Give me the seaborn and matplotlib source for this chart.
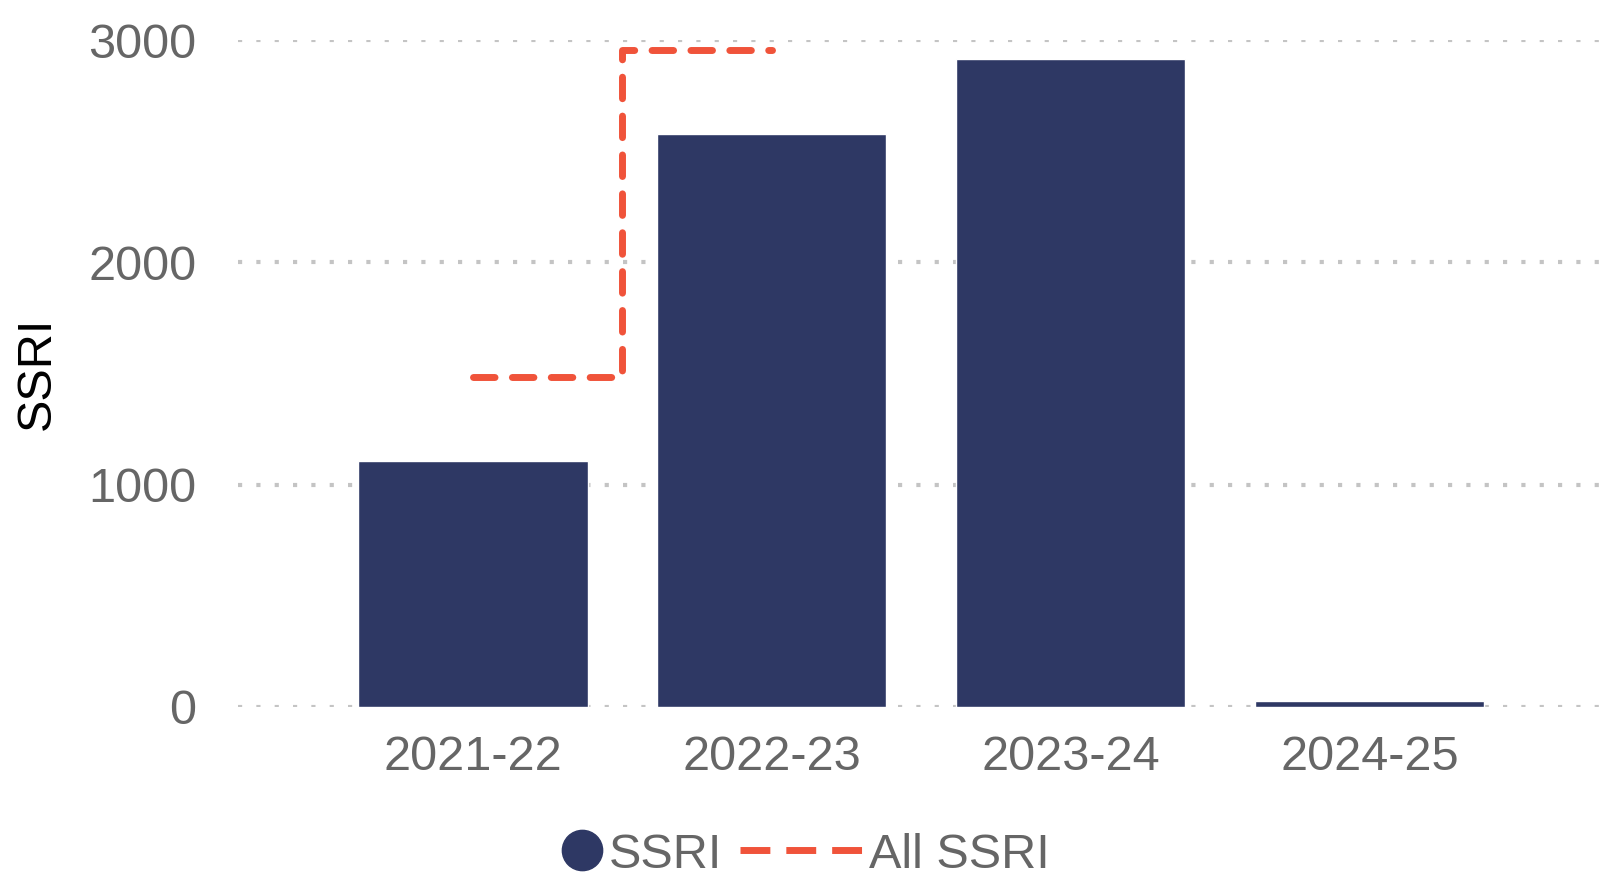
import matplotlib
matplotlib.use("Agg")
import matplotlib.pyplot as plt
from matplotlib.lines import Line2D
import seaborn as sns
import pandas as pd

# Chart data
years = ["2021-22", "2022-23", "2023-24", "2024-25"]
ssri_values = [1105, 2577, 2915, 26]
all_ssri_years = ["2021-22", "2022-23"]
all_ssri_values = [1484, 2955]
y_ticks = [0, 1000, 2000, 3000]

BAR_COLOR = "#2e3864"
LINE_COLOR = "#f0533a"
TEXT_GRAY = "#666666"
DASH = (0, (3.1, 2.5))

sns.set_theme(style="white")
plt.rcParams["font.family"] = ["Liberation Sans", "DejaVu Sans"]

fig = plt.figure(figsize=(16.10, 8.81), dpi=100)
ax = fig.add_axes([238 / 1610, 1 - 707 / 881, 1 - 238 / 1610, (707 - 40) / 881])

df = pd.DataFrame({"year": years, "value": ssri_values})
sns.barplot(data=df, x="year", y="value", color=BAR_COLOR, saturation=1,
            width=0.766, ax=ax)

# Step line for "All SSRI", placed on the category positions of the bar axis
line_pos = [years.index(y) for y in all_ssri_years]
ax.plot(line_pos, all_ssri_values, drawstyle="steps-mid", color=LINE_COLOR,
        lw=5, linestyle=DASH, dash_capstyle="round", zorder=3)

ax.set_xlim(-0.786, 3.803)
ax.set_ylim(0, 3000)
ax.set_yticks(y_ticks)
ax.set_yticklabels([str(t) for t in y_ticks])

ax.set_axisbelow(True)
ax.yaxis.grid(True, color="#c4c4c4", lw=3.0, linestyle=(0, (1, 3.4)))
ax.xaxis.grid(False)
for s in ax.spines.values():
    s.set_visible(False)

ax.tick_params(axis="y", length=0, pad=30, labelsize=35, labelcolor=TEXT_GRAY)
ax.tick_params(axis="x", length=0, pad=20, labelsize=35, labelcolor=TEXT_GRAY)
ax.set_xlabel("")
ax.set_ylabel("SSRI", fontsize=35, color="black")
ax.yaxis.set_label_coords((60 - 238) / 1372, 0.5)

# Two legend pieces so each handle gets its own width
dot = Line2D([], [], marker="o", linestyle="none", markersize=29,
             markerfacecolor=BAR_COLOR, markeredgecolor=BAR_COLOR)
dash = Line2D([], [], color=LINE_COLOR, lw=5, linestyle=(0, (4.3, 2.3)))
leg_kw = dict(loc="center left", frameon=False, fontsize=35,
              labelcolor=TEXT_GRAY, borderpad=0, borderaxespad=0,
              handletextpad=0.15)
fig.legend([dot], ["SSRI"], bbox_to_anchor=(563 / 1610, 1 - 855 / 881),
           handlelength=0.8, **leg_kw)
fig.legend([dash], ["All SSRI"], bbox_to_anchor=(740 / 1610, 1 - 855 / 881),
           handlelength=2.5, **leg_kw)

fig.savefig("out.png", dpi=100)
